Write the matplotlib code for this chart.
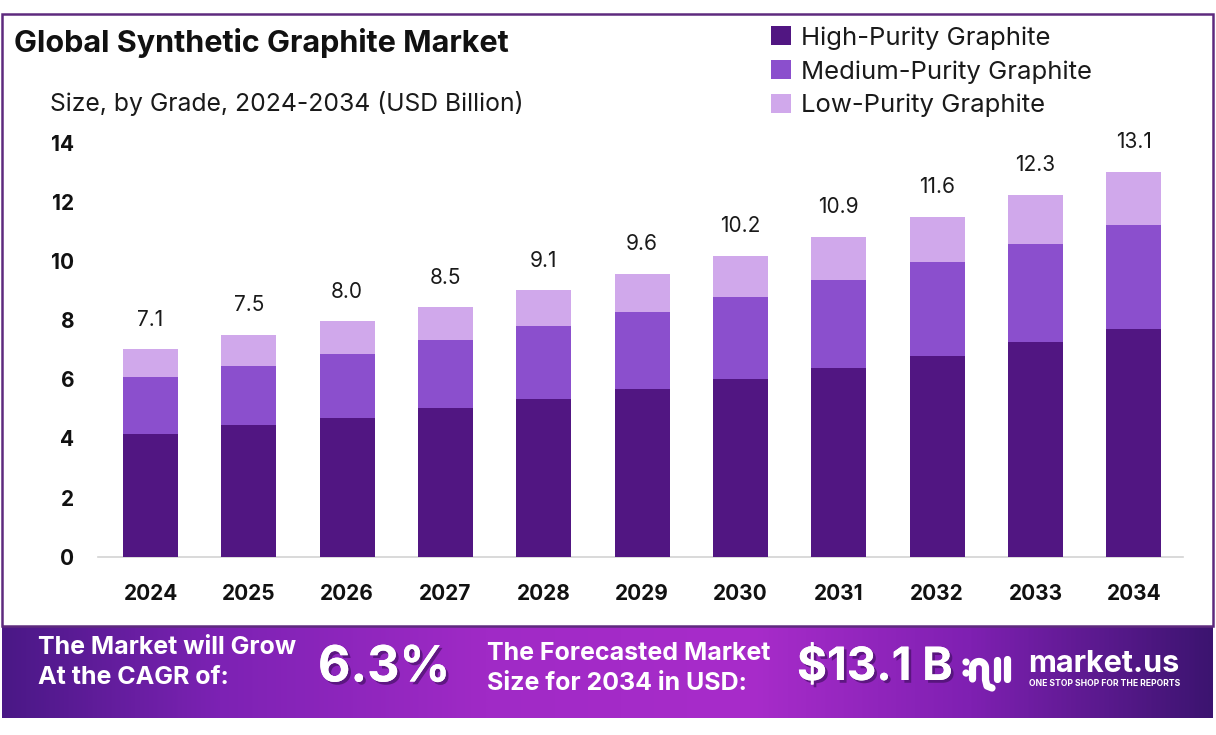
import matplotlib
matplotlib.use("Agg")
import matplotlib.pyplot as plt
import numpy as np
from matplotlib.colors import LinearSegmentedColormap
from matplotlib.patches import Rectangle
from matplotlib.lines import Line2D
import matplotlib.patheffects as pe

# ---- data ----
years = ["2024", "2025", "2026", "2027", "2028", "2029", "2030", "2031", "2032", "2033", "2034"]
high_purity = [4.16, 4.44, 4.71, 5.03, 5.35, 5.68, 6.02, 6.40, 6.80, 7.25, 7.72]
medium_purity = [1.92, 2.02, 2.16, 2.29, 2.45, 2.59, 2.78, 2.95, 3.16, 3.32, 3.52]
low_purity = [0.95, 1.05, 1.10, 1.13, 1.21, 1.31, 1.39, 1.48, 1.54, 1.68, 1.79]
totals = [7.1, 7.5, 8.0, 8.5, 9.1, 9.6, 10.2, 10.9, 11.6, 12.3, 13.1]
series_names = ["High-Purity Graphite", "Medium-Purity Graphite", "Low-Purity Graphite"]
y_ticks = [0, 2, 4, 6, 8, 10, 12, 14]

colors = ["#511682", "#8b4fcd", "#d0a8eb"]
FONT = ["Inter", "DejaVu Sans"]
plt.rcParams["font.family"] = FONT

W, H = 1216, 735
fig = plt.figure(figsize=(W / 100, H / 100), dpi=100)
fig.patch.set_facecolor("white")

def fx(px):
    return px / W

def fy(py):
    return 1 - py / H

# ---- outer border ----
border = Rectangle((fx(2), fy(626)), fx(1213) - fx(2), fy(14) - fy(626),
                   transform=fig.transFigure, fill=False, edgecolor="#5e2a7e",
                   linewidth=1.8, zorder=0)
fig.patches.append(border)

# ---- main axes ----
ax = fig.add_axes([fx(98), fy(556.7), fx(1183) - fx(98), fy(143) - fy(556.7)])
x = np.arange(len(years))
bw = 0.56
ax.bar(x, high_purity, bw, color=colors[0], label=series_names[0], zorder=3)
b1 = np.array(high_purity)
ax.bar(x, medium_purity, bw, bottom=b1, color=colors[1], label=series_names[1], zorder=3)
b2 = b1 + np.array(medium_purity)
ax.bar(x, low_purity, bw, bottom=b2, color=colors[2], label=series_names[2], zorder=3)
b3 = b2 + np.array(low_purity)

for xi, top, t in zip(x, b3, totals):
    ax.annotate(f"{t:.1f}", (xi, top), xytext=(0, 14), textcoords="offset points",
                ha="center", va="bottom", fontsize=15, color="#1a1a1a",
                annotation_clip=False)

ax.set_xlim(-0.534, 10.5)
ax.set_ylim(0, 14)
ax.set_yticks(y_ticks)
ax.set_yticklabels([str(v) for v in y_ticks], fontsize=15, fontweight="bold", color="#111111")
ax.set_xticks(x)
ax.set_xticklabels(years, fontsize=15, fontweight="bold", color="#111111")
ax.tick_params(axis="both", length=0)
ax.tick_params(axis="y", pad=17)
ax.tick_params(axis="x", pad=20)
for s in ["top", "right", "left"]:
    ax.spines[s].set_visible(False)
ax.spines["bottom"].set_color("#d3d3d3")
ax.spines["bottom"].set_linewidth(1.2)
ax.set_facecolor("none")

# ---- legend ----
handles, labels = ax.get_legend_handles_labels()
leg = fig.legend(handles, labels, loc="upper left", bbox_to_anchor=(fx(761), fy(16)),
                 frameon=False, fontsize=18.5, handlelength=0.75, handleheight=0.75,
                 handletextpad=0.4, labelspacing=0.4, borderaxespad=0)
for t in leg.get_texts():
    t.set_color("#1a1a1a")

# ---- titles ----
fig.text(fx(14), fy(43), "Global Synthetic Graphite Market", fontsize=22,
         fontweight="bold", color="#111111", va="center", ha="left")
fig.text(fx(50), fy(103), "Size, by Grade, 2024-2034 (USD Billion)", fontsize=17.8,
         color="#1a1a1a", va="center", ha="left")

# ---- bottom banner ----
bax = fig.add_axes([fx(2), fy(718), fx(1213) - fx(2), fy(626) - fy(718)])
cmap = LinearSegmentedColormap.from_list(
    "banner",
    [(0.0, "#4a1886"), (0.18, "#7d22b4"), (0.4, "#a02ac6"), (0.62, "#a82cca"),
     (0.8, "#7f20b2"), (1.0, "#3c1470")])
grad = np.linspace(0, 1, 512).reshape(1, -1)
bax.imshow(grad, aspect="auto", cmap=cmap, extent=[0, 1, 0, 1])
bax.set_xlim(0, 1)
bax.set_ylim(0, 1)
bax.axis("off")

shadow = [pe.withSimplePatchShadow(offset=(2, -2), shadow_rgbFace="#3a0d5a", alpha=0.6), pe.Normal()]

fig.text(fx(38), fy(647), "The Market will Grow", fontsize=18, fontweight="bold",
         color="white", va="center", ha="left")
fig.text(fx(38), fy(677), "At the CAGR of:", fontsize=18, fontweight="bold",
         color="white", va="center", ha="left")
fig.text(fx(318), fy(668), "6.3%", fontsize=36, fontweight="bold", color="white",
         va="center", ha="left", path_effects=shadow)
fig.text(fx(487), fy(654), "The Forecasted Market", fontsize=18, fontweight="bold",
         color="white", va="center", ha="left")
fig.text(fx(487), fy(683), "Size for 2034 in USD:", fontsize=18, fontweight="bold",
         color="white", va="center", ha="left")
fig.text(fx(797), fy(668), "$13.1 B", fontsize=33, fontweight="bold", color="white",
         va="center", ha="left", path_effects=shadow)

# logo mark drawn as simple white strokes
def logo_line(xs, ys, lw=5.2):
    fig.add_artist(Line2D([fx(v) for v in xs], [fy(v) for v in ys], color="white",
                          linewidth=lw, solid_capstyle="round", transform=fig.transFigure))

logo_line([966, 966.1], [662, 662.1])
logo_line([966, 966.1], [673, 673.1])
t = np.linspace(np.pi, 0, 30)
arc_x = list(979 + 6.5 * np.cos(t))
arc_y = list(668 - 6.5 * np.sin(t))
logo_line([972.5] + arc_x + [985.5, 987, 992], [679] + arc_y + [680, 686, 688])
logo_line([997, 997], [660, 679])
logo_line([1007, 1007], [659, 679])

fig.text(fx(1028), fy(664), "market.us", fontsize=22, fontweight="bold", color="white",
         va="center", ha="left")
fig.text(fx(1029), fy(684), "ONE STOP SHOP FOR THE REPORTS", fontsize=6.2,
         fontweight="bold", color="white", va="center", ha="left")

fig.savefig("out.png", dpi=100, facecolor="white")
